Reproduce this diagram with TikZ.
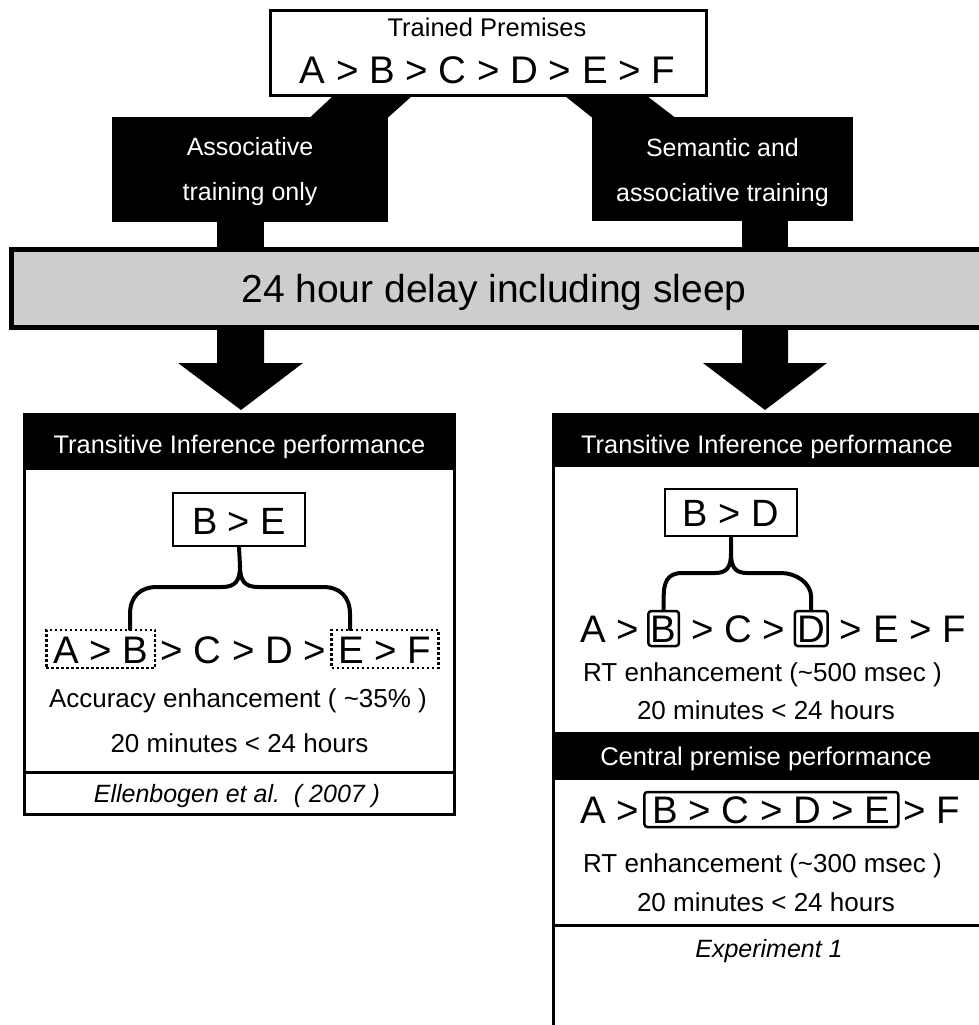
\documentclass[tikz,border=0pt]{standalone}
\usepackage{fontspec}
\setmainfont{Liberation Sans}
\definecolor{barfill}{RGB}{205,205,205}
\begin{document}
\begin{tikzpicture}[x=1pt,y=-1pt,
  txt/.style={inner sep=0pt, anchor=base},
  small/.style={font=\fontsize{25.4}{30}\selectfont},
  body/.style={font=\fontsize{26}{30}\selectfont},
  cite/.style={font=\fontsize{25}{28}\selectfont\itshape},
  chain/.style={inner sep=0pt, anchor=base west, font=\fontsize{38.4}{44}\selectfont},
  dotbox/.style={chain, draw, line width=2.5pt, dash pattern=on 2.5pt off 2.5pt,
                 inner xsep=7pt, inner ysep=0pt, text height=33pt, text depth=5pt},
  solidbox/.style={chain, draw, line width=2.5pt, rounded corners=3pt,
                   inner xsep=2.5pt, inner ysep=0pt, text height=31pt, text depth=4pt},
  plainbox/.style={draw, inner sep=0pt},
  label/.style={fill=black, inner sep=0pt},
  brace/.style={line width=4pt, line cap=round, line join=round}
]
\useasboundingbox (0,0) rectangle (979,1025);
\clip (0,0) rectangle (979,1025);

% ---- trained premises
\node[plainbox, line width=3pt, minimum width=436pt, minimum height=85pt] (top) at (488.5,53) {};
\node[txt, font=\fontsize{25.5}{30}\selectfont] (toptitle) at (487,37) {Trained Premises};
\node[txt, font=\fontsize{38.5}{44}\selectfont] (topchain) at (487.5,83) {A > B > C > D > E > F};

% ---- two training routes (black sign shapes)
\node[label, minimum width=276pt, minimum height=105pt] (lroute) at (250,169.5) {};
\fill (310,117.5) -- (333,96) -- (412,96) -- (388,117.5) -- cycle;
\fill (217,221) rectangle (264,249);
\node[txt, font=\fontsize{25}{30}\selectfont, white] (lroute1) at (250,155) {Associative};
\node[txt, font=\fontsize{25}{30}\selectfont, white] (lroute2) at (250,200) {training only};

\node[label, minimum width=261pt, minimum height=104pt] (rroute) at (722.5,169) {};
\fill (592,117.5) -- (565,96) -- (647,96) -- (675,117.5) -- cycle;
\fill (742,220) rectangle (788,249);
\node[txt, font=\fontsize{25}{30}\selectfont, white] (rroute1) at (722.5,156) {Semantic and};
\node[txt, font=\fontsize{25}{30}\selectfont, white] (rroute2) at (722.5,201) {associative training};

% ---- delay bar
\node[plainbox, line width=5pt, fill=barfill, minimum width=980pt, minimum height=78pt] (bar) at (501.5,288.5) {};
\node[txt, font=\fontsize{39}{44}\selectfont] (bartext) at (494,302) {24 hour delay including sleep};

% ---- arrows down to the outcome panels
\fill (217,329) -- (264,329) -- (264,363) -- (303,363) -- (241,410) -- (178,363) -- (217,363) -- cycle;
\fill (742,329) -- (788,329) -- (788,363) -- (827,363) -- (765,410) -- (703,363) -- (742,363) -- cycle;

% ---- left outcome panel
\fill (23,413) rectangle (456,470);
\draw[line width=3pt] (24.5,414.5) rectangle (454.5,814.5);
\draw[line width=3pt] (23,772) -- (456,772);
\node[txt, small, white] (lhead) at (239.5,453) {Transitive Inference performance};

\node[plainbox, line width=2pt, minimum width=132pt, minimum height=53pt] (lpair) at (239,519.5) {};
\node[txt, font=\fontsize{38}{44}\selectfont] (lpairtext) at (239,534) {B > E};

\node[dotbox] (lab) at (45,663) {A > B};
\node[chain] (lmid) at ([xshift=4pt]lab.base east) {> C > D >};
\node[dotbox] (lef) at ([xshift=4pt]lmid.base east) {E > F};

\draw[brace] (lpair.south) -- (240,566)
  .. controls (240,580) and (236,587) .. (222,587) -- (157,587)
  .. controls (140,587) and (130,597) .. (130,614) -- (130,629);
\draw[brace] (240,566)
  .. controls (240,580) and (244,587) .. (258,587) -- (323,587)
  .. controls (340,587) and (350,597) .. (350,614) -- (350,629);

\node[txt, body] (lacc) at (238,707) {Accuracy enhancement ( \textasciitilde35\% )};
\node[txt, body] (ltime) at (239.5,752) {20 minutes < 24 hours};
\node[txt, cite] (lcite) at (237,802) {Ellenbogen et al.\ \ ( 2007 )};

% ---- right outcome panel
\fill (552,413) rectangle (985,467);
\draw[line width=3pt] (553.5,413) -- (553.5,1030);
\node[txt, small, white] (rhead) at (767,453) {Transitive Inference performance};

\node[plainbox, line width=2pt, minimum width=132pt, minimum height=47pt] (rpair) at (731,512.5) {};
\node[txt, font=\fontsize{38}{44}\selectfont] (rpairtext) at (731,526) {B > D};

\node[chain] (r1a) at (580,642) {A >};
\node[solidbox] (r1b) at ([xshift=8pt]r1a.base east) {B};
\node[chain] (r1c) at ([xshift=11pt]r1b.base east) {> C >};
\node[solidbox] (r1d) at ([xshift=8pt]r1c.base east) {D};
\node[chain] (r1e) at ([xshift=11pt]r1d.base east) {> E > F};

\draw[brace] (rpair.south) -- (731,553)
  .. controls (731,567) and (727,573) .. (715,573) -- (682,573)
  .. controls (667,573) and (r1b.north |- 0,583) .. (r1b.north |- 0,597) -- (r1b.north);
\draw[brace] (731,553)
  .. controls (731,567) and (735,573) .. (747,573) -- (781,573)
  .. controls (796,573) and (r1d.north |- 0,583) .. (r1d.north |- 0,597) -- (r1d.north);

\node[txt, body] (rrt1) at (762.5,681) {RT enhancement (\textasciitilde500 msec )};
\node[txt, body] (rtime1) at (766,719) {20 minutes < 24 hours};

\fill (552,732) rectangle (985,780);
\node[txt, font=\fontsize{25.6}{30}\selectfont, white] (rhead2) at (766,765) {Central premise performance};

\node[chain] (r2a) at (580,823) {A >};
\node[solidbox, inner xsep=8pt] (r2b) at ([xshift=4pt]r2a.base east) {B > C > D > E};
\node[chain] (r2c) at ([xshift=4pt]r2b.base east) {> F};

\node[txt, body] (rrt2) at (762.5,872) {RT enhancement (\textasciitilde300 msec )};
\node[txt, body] (rtime2) at (766,911) {20 minutes < 24 hours};
\draw[line width=3pt] (552,925) -- (985,925);
\node[txt, cite] (rcite) at (769,957) {Experiment 1};
\end{tikzpicture}
\end{document}
